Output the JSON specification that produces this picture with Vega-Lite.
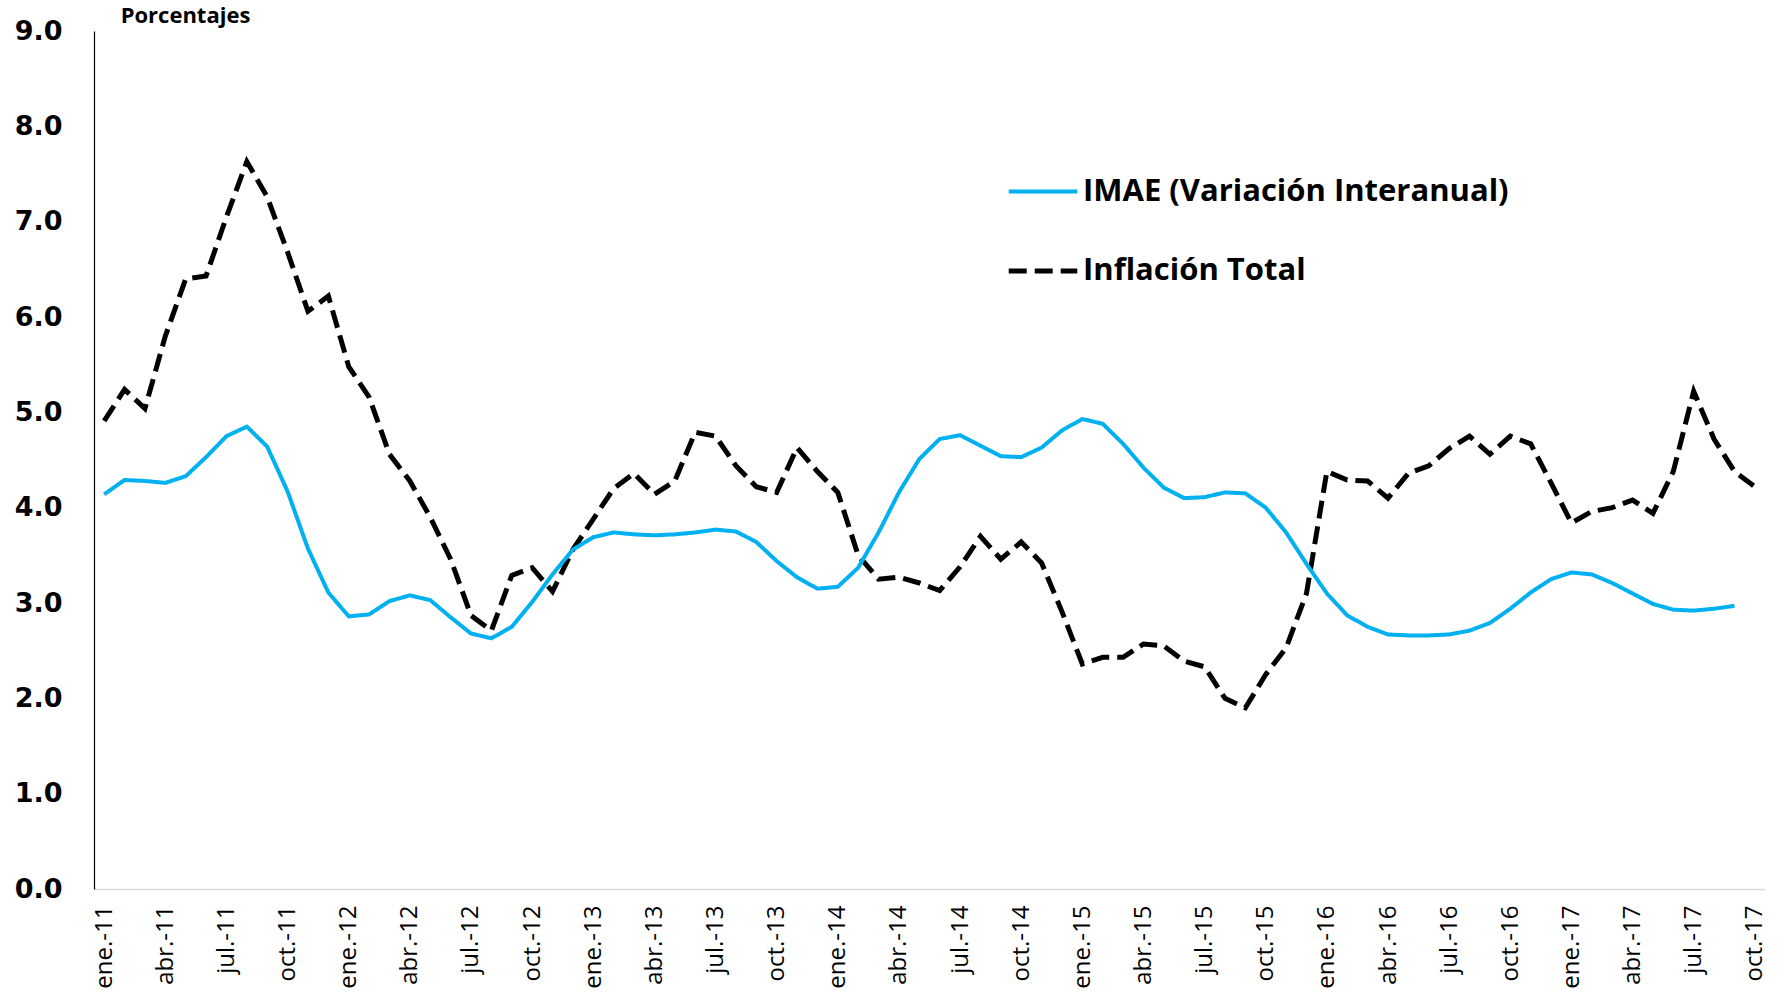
{
  "$schema": "https://vega.github.io/schema/vega-lite/v6.json",
  "width": 1671,
  "height": 858,
  "autosize": {"type": "none"},
  "padding": {"left": 94, "top": 31, "right": 22, "bottom": 104},
  "background": "white",
  "config": {"view": {"stroke": null}},
  "data": {"values": [
    {"mes":"ene.-11","serie":"Inflación Total","valor":4.91},
    {"mes":"feb.-11","serie":"Inflación Total","valor":5.24},
    {"mes":"mar.-11","serie":"Inflación Total","valor":5.04},
    {"mes":"abr.-11","serie":"Inflación Total","valor":5.80},
    {"mes":"may.-11","serie":"Inflación Total","valor":6.40},
    {"mes":"jun.-11","serie":"Inflación Total","valor":6.43},
    {"mes":"jul.-11","serie":"Inflación Total","valor":7.05},
    {"mes":"ago.-11","serie":"Inflación Total","valor":7.63},
    {"mes":"sep.-11","serie":"Inflación Total","valor":7.26},
    {"mes":"oct.-11","serie":"Inflación Total","valor":6.68},
    {"mes":"nov.-11","serie":"Inflación Total","valor":6.06},
    {"mes":"dic.-11","serie":"Inflación Total","valor":6.22},
    {"mes":"ene.-12","serie":"Inflación Total","valor":5.48},
    {"mes":"feb.-12","serie":"Inflación Total","valor":5.16},
    {"mes":"mar.-12","serie":"Inflación Total","valor":4.56},
    {"mes":"abr.-12","serie":"Inflación Total","valor":4.28},
    {"mes":"may.-12","serie":"Inflación Total","valor":3.90},
    {"mes":"jun.-12","serie":"Inflación Total","valor":3.46},
    {"mes":"jul.-12","serie":"Inflación Total","valor":2.87},
    {"mes":"ago.-12","serie":"Inflación Total","valor":2.71},
    {"mes":"sep.-12","serie":"Inflación Total","valor":3.29},
    {"mes":"oct.-12","serie":"Inflación Total","valor":3.37},
    {"mes":"nov.-12","serie":"Inflación Total","valor":3.12},
    {"mes":"dic.-12","serie":"Inflación Total","valor":3.56},
    {"mes":"ene.-13","serie":"Inflación Total","valor":3.88},
    {"mes":"feb.-13","serie":"Inflación Total","valor":4.20},
    {"mes":"mar.-13","serie":"Inflación Total","valor":4.36},
    {"mes":"abr.-13","serie":"Inflación Total","valor":4.14},
    {"mes":"may.-13","serie":"Inflación Total","valor":4.28},
    {"mes":"jun.-13","serie":"Inflación Total","valor":4.79},
    {"mes":"jul.-13","serie":"Inflación Total","valor":4.75},
    {"mes":"ago.-13","serie":"Inflación Total","valor":4.44},
    {"mes":"sep.-13","serie":"Inflación Total","valor":4.22},
    {"mes":"oct.-13","serie":"Inflación Total","valor":4.16},
    {"mes":"nov.-13","serie":"Inflación Total","valor":4.63},
    {"mes":"dic.-13","serie":"Inflación Total","valor":4.38},
    {"mes":"ene.-14","serie":"Inflación Total","valor":4.16},
    {"mes":"feb.-14","serie":"Inflación Total","valor":3.50},
    {"mes":"mar.-14","serie":"Inflación Total","valor":3.25},
    {"mes":"abr.-14","serie":"Inflación Total","valor":3.27},
    {"mes":"may.-14","serie":"Inflación Total","valor":3.21},
    {"mes":"jun.-14","serie":"Inflación Total","valor":3.13},
    {"mes":"jul.-14","serie":"Inflación Total","valor":3.38},
    {"mes":"ago.-14","serie":"Inflación Total","valor":3.70},
    {"mes":"sep.-14","serie":"Inflación Total","valor":3.46},
    {"mes":"oct.-14","serie":"Inflación Total","valor":3.64},
    {"mes":"nov.-14","serie":"Inflación Total","valor":3.42},
    {"mes":"dic.-14","serie":"Inflación Total","valor":2.91},
    {"mes":"ene.-15","serie":"Inflación Total","valor":2.36},
    {"mes":"feb.-15","serie":"Inflación Total","valor":2.43},
    {"mes":"mar.-15","serie":"Inflación Total","valor":2.43},
    {"mes":"abr.-15","serie":"Inflación Total","valor":2.57},
    {"mes":"may.-15","serie":"Inflación Total","valor":2.55},
    {"mes":"jun.-15","serie":"Inflación Total","valor":2.39},
    {"mes":"jul.-15","serie":"Inflación Total","valor":2.33},
    {"mes":"ago.-15","serie":"Inflación Total","valor":2.00},
    {"mes":"sep.-15","serie":"Inflación Total","valor":1.90},
    {"mes":"oct.-15","serie":"Inflación Total","valor":2.25},
    {"mes":"nov.-15","serie":"Inflación Total","valor":2.53},
    {"mes":"dic.-15","serie":"Inflación Total","valor":3.10},
    {"mes":"ene.-16","serie":"Inflación Total","valor":4.38},
    {"mes":"feb.-16","serie":"Inflación Total","valor":4.29},
    {"mes":"mar.-16","serie":"Inflación Total","valor":4.28},
    {"mes":"abr.-16","serie":"Inflación Total","valor":4.10},
    {"mes":"may.-16","serie":"Inflación Total","valor":4.36},
    {"mes":"jun.-16","serie":"Inflación Total","valor":4.44},
    {"mes":"jul.-16","serie":"Inflación Total","valor":4.62},
    {"mes":"ago.-16","serie":"Inflación Total","valor":4.75},
    {"mes":"sep.-16","serie":"Inflación Total","valor":4.56},
    {"mes":"oct.-16","serie":"Inflación Total","valor":4.75},
    {"mes":"nov.-16","serie":"Inflación Total","valor":4.67},
    {"mes":"dic.-16","serie":"Inflación Total","valor":4.26},
    {"mes":"ene.-17","serie":"Inflación Total","valor":3.84},
    {"mes":"feb.-17","serie":"Inflación Total","valor":3.96},
    {"mes":"mar.-17","serie":"Inflación Total","valor":4.00},
    {"mes":"abr.-17","serie":"Inflación Total","valor":4.08},
    {"mes":"may.-17","serie":"Inflación Total","valor":3.94},
    {"mes":"jun.-17","serie":"Inflación Total","valor":4.38},
    {"mes":"jul.-17","serie":"Inflación Total","valor":5.22},
    {"mes":"ago.-17","serie":"Inflación Total","valor":4.72},
    {"mes":"sep.-17","serie":"Inflación Total","valor":4.38},
    {"mes":"oct.-17","serie":"Inflación Total","valor":4.22},
    {"mes":"ene.-11","serie":"IMAE (Variación Interanual)","valor":4.14},
    {"mes":"feb.-11","serie":"IMAE (Variación Interanual)","valor":4.29},
    {"mes":"mar.-11","serie":"IMAE (Variación Interanual)","valor":4.28},
    {"mes":"abr.-11","serie":"IMAE (Variación Interanual)","valor":4.26},
    {"mes":"may.-11","serie":"IMAE (Variación Interanual)","valor":4.33},
    {"mes":"jun.-11","serie":"IMAE (Variación Interanual)","valor":4.53},
    {"mes":"jul.-11","serie":"IMAE (Variación Interanual)","valor":4.75},
    {"mes":"ago.-11","serie":"IMAE (Variación Interanual)","valor":4.85},
    {"mes":"sep.-11","serie":"IMAE (Variación Interanual)","valor":4.64},
    {"mes":"oct.-11","serie":"IMAE (Variación Interanual)","valor":4.17},
    {"mes":"nov.-11","serie":"IMAE (Variación Interanual)","valor":3.57},
    {"mes":"dic.-11","serie":"IMAE (Variación Interanual)","valor":3.11},
    {"mes":"ene.-12","serie":"IMAE (Variación Interanual)","valor":2.86},
    {"mes":"feb.-12","serie":"IMAE (Variación Interanual)","valor":2.88},
    {"mes":"mar.-12","serie":"IMAE (Variación Interanual)","valor":3.02},
    {"mes":"abr.-12","serie":"IMAE (Variación Interanual)","valor":3.08},
    {"mes":"may.-12","serie":"IMAE (Variación Interanual)","valor":3.03},
    {"mes":"jun.-12","serie":"IMAE (Variación Interanual)","valor":2.85},
    {"mes":"jul.-12","serie":"IMAE (Variación Interanual)","valor":2.68},
    {"mes":"ago.-12","serie":"IMAE (Variación Interanual)","valor":2.63},
    {"mes":"sep.-12","serie":"IMAE (Variación Interanual)","valor":2.75},
    {"mes":"oct.-12","serie":"IMAE (Variación Interanual)","valor":3.01},
    {"mes":"nov.-12","serie":"IMAE (Variación Interanual)","valor":3.30},
    {"mes":"dic.-12","serie":"IMAE (Variación Interanual)","valor":3.56},
    {"mes":"ene.-13","serie":"IMAE (Variación Interanual)","valor":3.69},
    {"mes":"feb.-13","serie":"IMAE (Variación Interanual)","valor":3.74},
    {"mes":"mar.-13","serie":"IMAE (Variación Interanual)","valor":3.72},
    {"mes":"abr.-13","serie":"IMAE (Variación Interanual)","valor":3.71},
    {"mes":"may.-13","serie":"IMAE (Variación Interanual)","valor":3.72},
    {"mes":"jun.-13","serie":"IMAE (Variación Interanual)","valor":3.74},
    {"mes":"jul.-13","serie":"IMAE (Variación Interanual)","valor":3.77},
    {"mes":"ago.-13","serie":"IMAE (Variación Interanual)","valor":3.75},
    {"mes":"sep.-13","serie":"IMAE (Variación Interanual)","valor":3.64},
    {"mes":"oct.-13","serie":"IMAE (Variación Interanual)","valor":3.44},
    {"mes":"nov.-13","serie":"IMAE (Variación Interanual)","valor":3.27},
    {"mes":"dic.-13","serie":"IMAE (Variación Interanual)","valor":3.15},
    {"mes":"ene.-14","serie":"IMAE (Variación Interanual)","valor":3.17},
    {"mes":"feb.-14","serie":"IMAE (Variación Interanual)","valor":3.37},
    {"mes":"mar.-14","serie":"IMAE (Variación Interanual)","valor":3.74},
    {"mes":"abr.-14","serie":"IMAE (Variación Interanual)","valor":4.16},
    {"mes":"may.-14","serie":"IMAE (Variación Interanual)","valor":4.51},
    {"mes":"jun.-14","serie":"IMAE (Variación Interanual)","valor":4.72},
    {"mes":"jul.-14","serie":"IMAE (Variación Interanual)","valor":4.76},
    {"mes":"ago.-14","serie":"IMAE (Variación Interanual)","valor":4.65},
    {"mes":"sep.-14","serie":"IMAE (Variación Interanual)","valor":4.54},
    {"mes":"oct.-14","serie":"IMAE (Variación Interanual)","valor":4.53},
    {"mes":"nov.-14","serie":"IMAE (Variación Interanual)","valor":4.63},
    {"mes":"dic.-14","serie":"IMAE (Variación Interanual)","valor":4.81},
    {"mes":"ene.-15","serie":"IMAE (Variación Interanual)","valor":4.93},
    {"mes":"feb.-15","serie":"IMAE (Variación Interanual)","valor":4.88},
    {"mes":"mar.-15","serie":"IMAE (Variación Interanual)","valor":4.67},
    {"mes":"abr.-15","serie":"IMAE (Variación Interanual)","valor":4.42},
    {"mes":"may.-15","serie":"IMAE (Variación Interanual)","valor":4.21},
    {"mes":"jun.-15","serie":"IMAE (Variación Interanual)","valor":4.10},
    {"mes":"jul.-15","serie":"IMAE (Variación Interanual)","valor":4.11},
    {"mes":"ago.-15","serie":"IMAE (Variación Interanual)","valor":4.16},
    {"mes":"sep.-15","serie":"IMAE (Variación Interanual)","valor":4.15},
    {"mes":"oct.-15","serie":"IMAE (Variación Interanual)","valor":4.00},
    {"mes":"nov.-15","serie":"IMAE (Variación Interanual)","valor":3.74},
    {"mes":"dic.-15","serie":"IMAE (Variación Interanual)","valor":3.41},
    {"mes":"ene.-16","serie":"IMAE (Variación Interanual)","valor":3.10},
    {"mes":"feb.-16","serie":"IMAE (Variación Interanual)","valor":2.87},
    {"mes":"mar.-16","serie":"IMAE (Variación Interanual)","valor":2.75},
    {"mes":"abr.-16","serie":"IMAE (Variación Interanual)","valor":2.67},
    {"mes":"may.-16","serie":"IMAE (Variación Interanual)","valor":2.66},
    {"mes":"jun.-16","serie":"IMAE (Variación Interanual)","valor":2.66},
    {"mes":"jul.-16","serie":"IMAE (Variación Interanual)","valor":2.67},
    {"mes":"ago.-16","serie":"IMAE (Variación Interanual)","valor":2.71},
    {"mes":"sep.-16","serie":"IMAE (Variación Interanual)","valor":2.79},
    {"mes":"oct.-16","serie":"IMAE (Variación Interanual)","valor":2.94},
    {"mes":"nov.-16","serie":"IMAE (Variación Interanual)","valor":3.11},
    {"mes":"dic.-16","serie":"IMAE (Variación Interanual)","valor":3.25},
    {"mes":"ene.-17","serie":"IMAE (Variación Interanual)","valor":3.32},
    {"mes":"feb.-17","serie":"IMAE (Variación Interanual)","valor":3.30},
    {"mes":"mar.-17","serie":"IMAE (Variación Interanual)","valor":3.21},
    {"mes":"abr.-17","serie":"IMAE (Variación Interanual)","valor":3.10},
    {"mes":"may.-17","serie":"IMAE (Variación Interanual)","valor":2.99},
    {"mes":"jun.-17","serie":"IMAE (Variación Interanual)","valor":2.93},
    {"mes":"jul.-17","serie":"IMAE (Variación Interanual)","valor":2.92},
    {"mes":"ago.-17","serie":"IMAE (Variación Interanual)","valor":2.94},
    {"mes":"sep.-17","serie":"IMAE (Variación Interanual)","valor":2.97}
  ]},
  "mark": {"type": "line", "strokeCap": "butt", "strokeJoin": "miter"},
  "encoding": {
    "x": {
      "field": "mes", "type": "ordinal", "sort": null,
      "scale": {"type": "point", "padding": 0.5},
      "axis": {
        "title": null,
        "values": ["ene.-11","abr.-11","jul.-11","oct.-11","ene.-12","abr.-12","jul.-12","oct.-12","ene.-13","abr.-13","jul.-13","oct.-13","ene.-14","abr.-14","jul.-14","oct.-14","ene.-15","abr.-15","jul.-15","oct.-15","ene.-16","abr.-16","jul.-16","oct.-16","ene.-17","abr.-17","jul.-17","oct.-17"],
        "labelAngle": 270,
        "labelFont": "Open Sans",
        "labelFontSize": 24,
        "labelColor": "#000000",
        "labelPadding": 16,
        "labelOverlap": false,
        "ticks": false,
        "tickSize": 0,
        "domainColor": "#d9d9d9",
        "domainWidth": 1.5,
        "grid": false
      }
    },
    "y": {
      "field": "valor", "type": "quantitative",
      "scale": {"domain": [0, 9], "nice": false},
      "axis": {
        "title": "Porcentajes",
        "titleAngle": 0,
        "titleX": 91,
        "titleY": -16,
        "titleAlign": "center",
        "titleBaseline": "middle",
        "titleFont": "Open Sans",
        "titleFontSize": 22,
        "titleFontWeight": "bold",
        "titleColor": "#000000",
        "values": [0,1,2,3,4,5,6,7,8,9],
        "format": ".1f",
        "labelFont": "DejaVu Sans",
        "labelFontSize": 27,
        "labelFontWeight": "bold",
        "labelColor": "#000000",
        "labelPadding": 32,
        "ticks": false,
        "tickSize": 0,
        "domainColor": "#000000",
        "domainWidth": 1.2,
        "grid": false
      }
    },
    "color": {
      "field": "serie", "type": "nominal",
      "scale": {"domain": ["IMAE (Variación Interanual)", "Inflación Total"], "range": ["#00B0F0", "#000000"]},
      "legend": {
        "title": null,
        "orient": "none",
        "legendX": 912,
        "legendY": 124,
        "padding": 0,
        "symbolType": "stroke",
        "symbolSize": 4700,
        "symbolStrokeWidth": 4.5,
        "labelFont": "Open Sans",
        "labelFontSize": 31,
        "labelFontWeight": "bold",
        "labelColor": "#000000",
        "labelOffset": 3,
        "rowPadding": 27,
        "labelLimit": 0
      }
    },
    "strokeDash": {
      "field": "serie", "type": "nominal",
      "scale": {"domain": ["IMAE (Variación Interanual)", "Inflación Total"], "range": [[1, 0], [18, 8]]}
    },
    "strokeWidth": {
      "field": "serie", "type": "ordinal",
      "scale": {"domain": ["IMAE (Variación Interanual)", "Inflación Total"], "range": [4, 5]}
    }
  }
}
